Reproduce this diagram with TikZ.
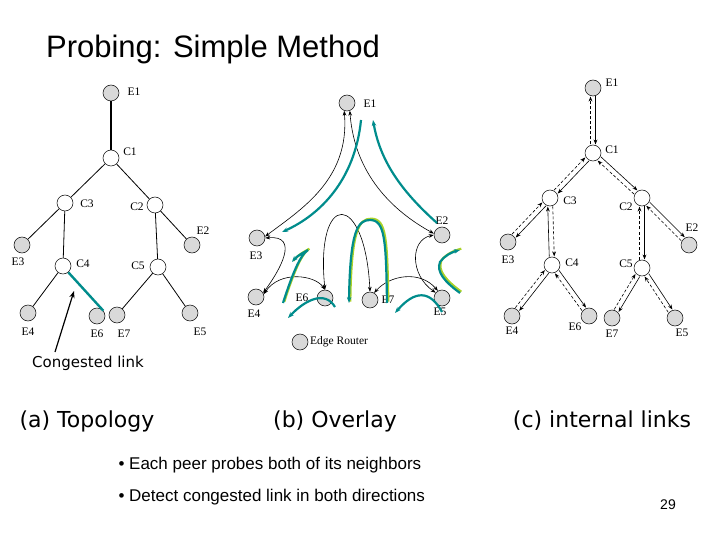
\documentclass[tikz,border=0pt]{standalone}
\usepackage{fontspec}
\setmainfont{Liberation Serif}
\newfontfamily\arial{Liberation Sans}
\newfontfamily\tah{DejaVu Sans}
\usetikzlibrary{calc,arrows.meta}
\tikzset{
 en/.style={circle,draw=black,fill=gray!30,minimum size=16pt,inner sep=0pt,line width=0.5pt},
 cn/.style={circle,draw=black,fill=white,minimum size=16pt,inner sep=0pt,line width=0.5pt},
 lb/.style={font=\fontsize{11.5}{11.5}\selectfont,inner sep=0pt},
 ln/.style={line width=0.8pt},
 blk/.style={line width=0.6pt,{Stealth[length=5pt]}-{Stealth[length=5pt]}},
 teal/.style={line width=2.2pt,draw={rgb,255:red,0;green,140;blue,140},-{Stealth[length=6pt]}},
 lime/.style={line width=2.2pt,draw={rgb,255:red,170;green,210;blue,40},shift={(1.3,-1.3)}},
 sa/.style={line width=0.6pt,-{Stealth[length=5pt]},shorten >=8.5pt,shorten <=8.5pt},
 da/.style={sa,dashed,dash pattern=on 3pt off 2pt},
}
\newcommand\lnk[2]{%
 \draw[sa] ($(#1)!2.5pt!90:(#2)$) -- ($(#2)!2.5pt!-90:(#1)$);
 \draw[da] ($(#2)!2.5pt!90:(#1)$) -- ($(#1)!2.5pt!-90:(#2)$);}
\newcommand\upath{(387,303) .. controls (386,240) and (385,220) .. (370,220) .. controls (358,220) and (350,230) .. (349,303)}
\newcommand\hpath{(283,303) .. controls (292,275) and (300,255) .. (308,250) .. controls (305,252) and (298,255) .. (292,262)}
\newcommand\rpath{(460,293) .. controls (445,282) and (436,272) .. (440,262) .. controls (444,256) and (452,252) .. (460,250)}
\begin{document}
\begin{tikzpicture}[x=1pt,y=-1pt]
\useasboundingbox (0,0) rectangle (720,540);
\node[font=\arial\fontsize{31}{31}\selectfont] (title) at (213,49) {Probing: Simple Method};
% (a)
\node[en] (aE1) at (111,93) {}; \node[cn] (aC1) at (111,158) {};
\node[cn] (aC3) at (65,203) {}; \node[cn] (aC2) at (155,205) {};
\node[en] (aE2) at (192,245) {}; \node[en] (aE3) at (22,245) {};
\node[cn] (aC4) at (63,266) {}; \node[cn] (aC5) at (158,267) {};
\node[en] (aE4) at (28,313) {}; \node[en] (aE6) at (97,316) {};
\node[en] (aE7) at (117,315) {}; \node[en] (aE5) at (190,313) {};
\draw[line width=1.2pt] (aE1)--(aC1);
\draw[ln] (aC1)--(aC3) (aC1)--(aC2) (aC3)--(aE3) (aC3)--(aC4) (aC2)--(aE2) (aC2)--(aC5)
 (aC4)--(aE4) (aC5)--(aE7) (aC5)--(aE5);
\draw[line width=2.4pt,draw={rgb,255:red,0;green,140;blue,140}] (aC4.-50)--(aE6.40);
\node[lb] at (134,92) {E1}; \node[lb] at (130,152) {C1}; \node[lb] at (87,204) {C3};
\node[lb] at (137,207) {C2}; \node[lb] at (203,231) {E2}; \node[lb] at (18,262) {E3};
\node[lb] at (83,264) {C4}; \node[lb] at (138,266) {C5}; \node[lb] at (28,332) {E4};
\node[lb] at (97,334) {E6}; \node[lb] at (124,334) {E7}; \node[lb] at (200,332) {E5};
\node[font=\tah\fontsize{15}{15}\selectfont] (cong) at (88,363) {Congested link};
\coordinate (ctip) at (74,291);
\draw[line width=1.2pt,-{Stealth[length=7pt]}] (55,352) -- (ctip);
% (b)
\node[en] (bE1) at (347,103) {}; \node[en] (bE3) at (257,238) {};
\node[en] (bE2) at (442,235) {}; \node[en] (bE4) at (256,297) {};
\node[en] (bE6) at (325,298) {}; \node[en] (bE7) at (370,300) {};
\node[en] (bE5) at (442,298) {}; \node[en] (bleg) at (300,342) {};
\node[lb,anchor=west] at (310,342) {Edge Router};
\node[lb] at (370,104) {E1}; \node[lb] at (256,256) {E3}; \node[lb] at (442,221) {E2};
\node[lb] at (254,314) {E4}; \node[lb] at (302,298) {E6}; \node[lb] at (388,300) {E7};
\node[lb] at (440,312) {E5};
\draw[blk] (bE1.-110) .. controls (350,180) and (300,210) .. (bE3.10);
\draw[blk] (bE1.-70) .. controls (355,180) and (400,215) .. (bE2.170);
\draw[blk] (bE3.0) .. controls (300,235) and (280,270) .. (bE4.30);
\draw[blk] (bE4.20) .. controls (280,270) and (315,275) .. (bE6.90);
\draw[blk] (bE6.90) .. controls (315,190) and (365,190) .. (bE7.90);
\draw[blk] (bE7.60) .. controls (390,275) and (420,270) .. (bE5.120);
\draw[blk] (bE2.180) .. controls (410,240) and (410,275) .. (bE5.140);
\draw[teal] (361,120) .. controls (355,180) and (320,215) .. (282,232);
\draw[teal] (437,223) .. controls (400,190) and (380,160) .. (373,120);
\draw[lime] \upath; \draw[teal] \upath;
\draw[lime] \hpath; \draw[teal] \hpath;
\draw[lime] \rpath; \draw[teal] \rpath;
\draw[teal] (335,307) .. controls (325,290) and (305,300) .. (288,318);
\draw[teal] (442,312) .. controls (430,290) and (415,290) .. (395,313);
% (c)
\node[en] (cE1) at (593,88) {}; \node[cn] (cC1) at (593,153) {};
\node[cn] (cC3) at (550,198) {}; \node[cn] (cC2) at (642,198) {};
\node[en] (cE2) at (689,245) {}; \node[en] (cE3) at (508,242) {};
\node[cn] (cC4) at (552,265) {}; \node[cn] (cC5) at (642,268) {};
\node[en] (cE4) at (512,316) {}; \node[en] (cE6) at (589,316) {};
\node[en] (cE7) at (612,318) {}; \node[en] (cE5) at (675,318) {};
\lnk{cE1}{cC1} \lnk{cC1}{cC3} \lnk{cC1}{cC2} \lnk{cC3}{cE3} \lnk{cC4}{cC3}
\lnk{cC2}{cE2} \lnk{cC2}{cC5} \lnk{cC4}{cE4} \lnk{cC4}{cE6} \lnk{cC5}{cE7} \lnk{cC5}{cE5}
\node[lb] at (612,83) {E1}; \node[lb] at (612,150) {C1}; \node[lb] at (570,201) {C3};
\node[lb] at (626,207) {C2}; \node[lb] at (692,228) {E2}; \node[lb] at (508,260) {E3};
\node[lb] at (572,263) {C4}; \node[lb] at (626,264) {C5}; \node[lb] at (512,331) {E4};
\node[lb] at (575,327) {E6}; \node[lb] at (612,334) {E7}; \node[lb] at (682,333) {E5};
% captions
\node[font=\tah\fontsize{22}{22}\selectfont] (capa) at (87,421) {(a) Topology};
\node[font=\tah\fontsize{22}{22}\selectfont] (capb) at (335,421) {(b) Overlay};
\node[font=\tah\fontsize{22}{22}\selectfont] (capc) at (602,421) {(c) internal links};
\node[font=\arial\fontsize{17}{17}\selectfont,anchor=west] (b1) at (115,465) {• Each peer probes both of its neighbors};
\node[font=\arial\fontsize{17}{17}\selectfont,anchor=west] (b2) at (115,497) {• Detect congested link in both directions};
\node[font=\arial\fontsize{14}{14}\selectfont] (pg) at (668,505) {29};
\end{tikzpicture}
\end{document}
